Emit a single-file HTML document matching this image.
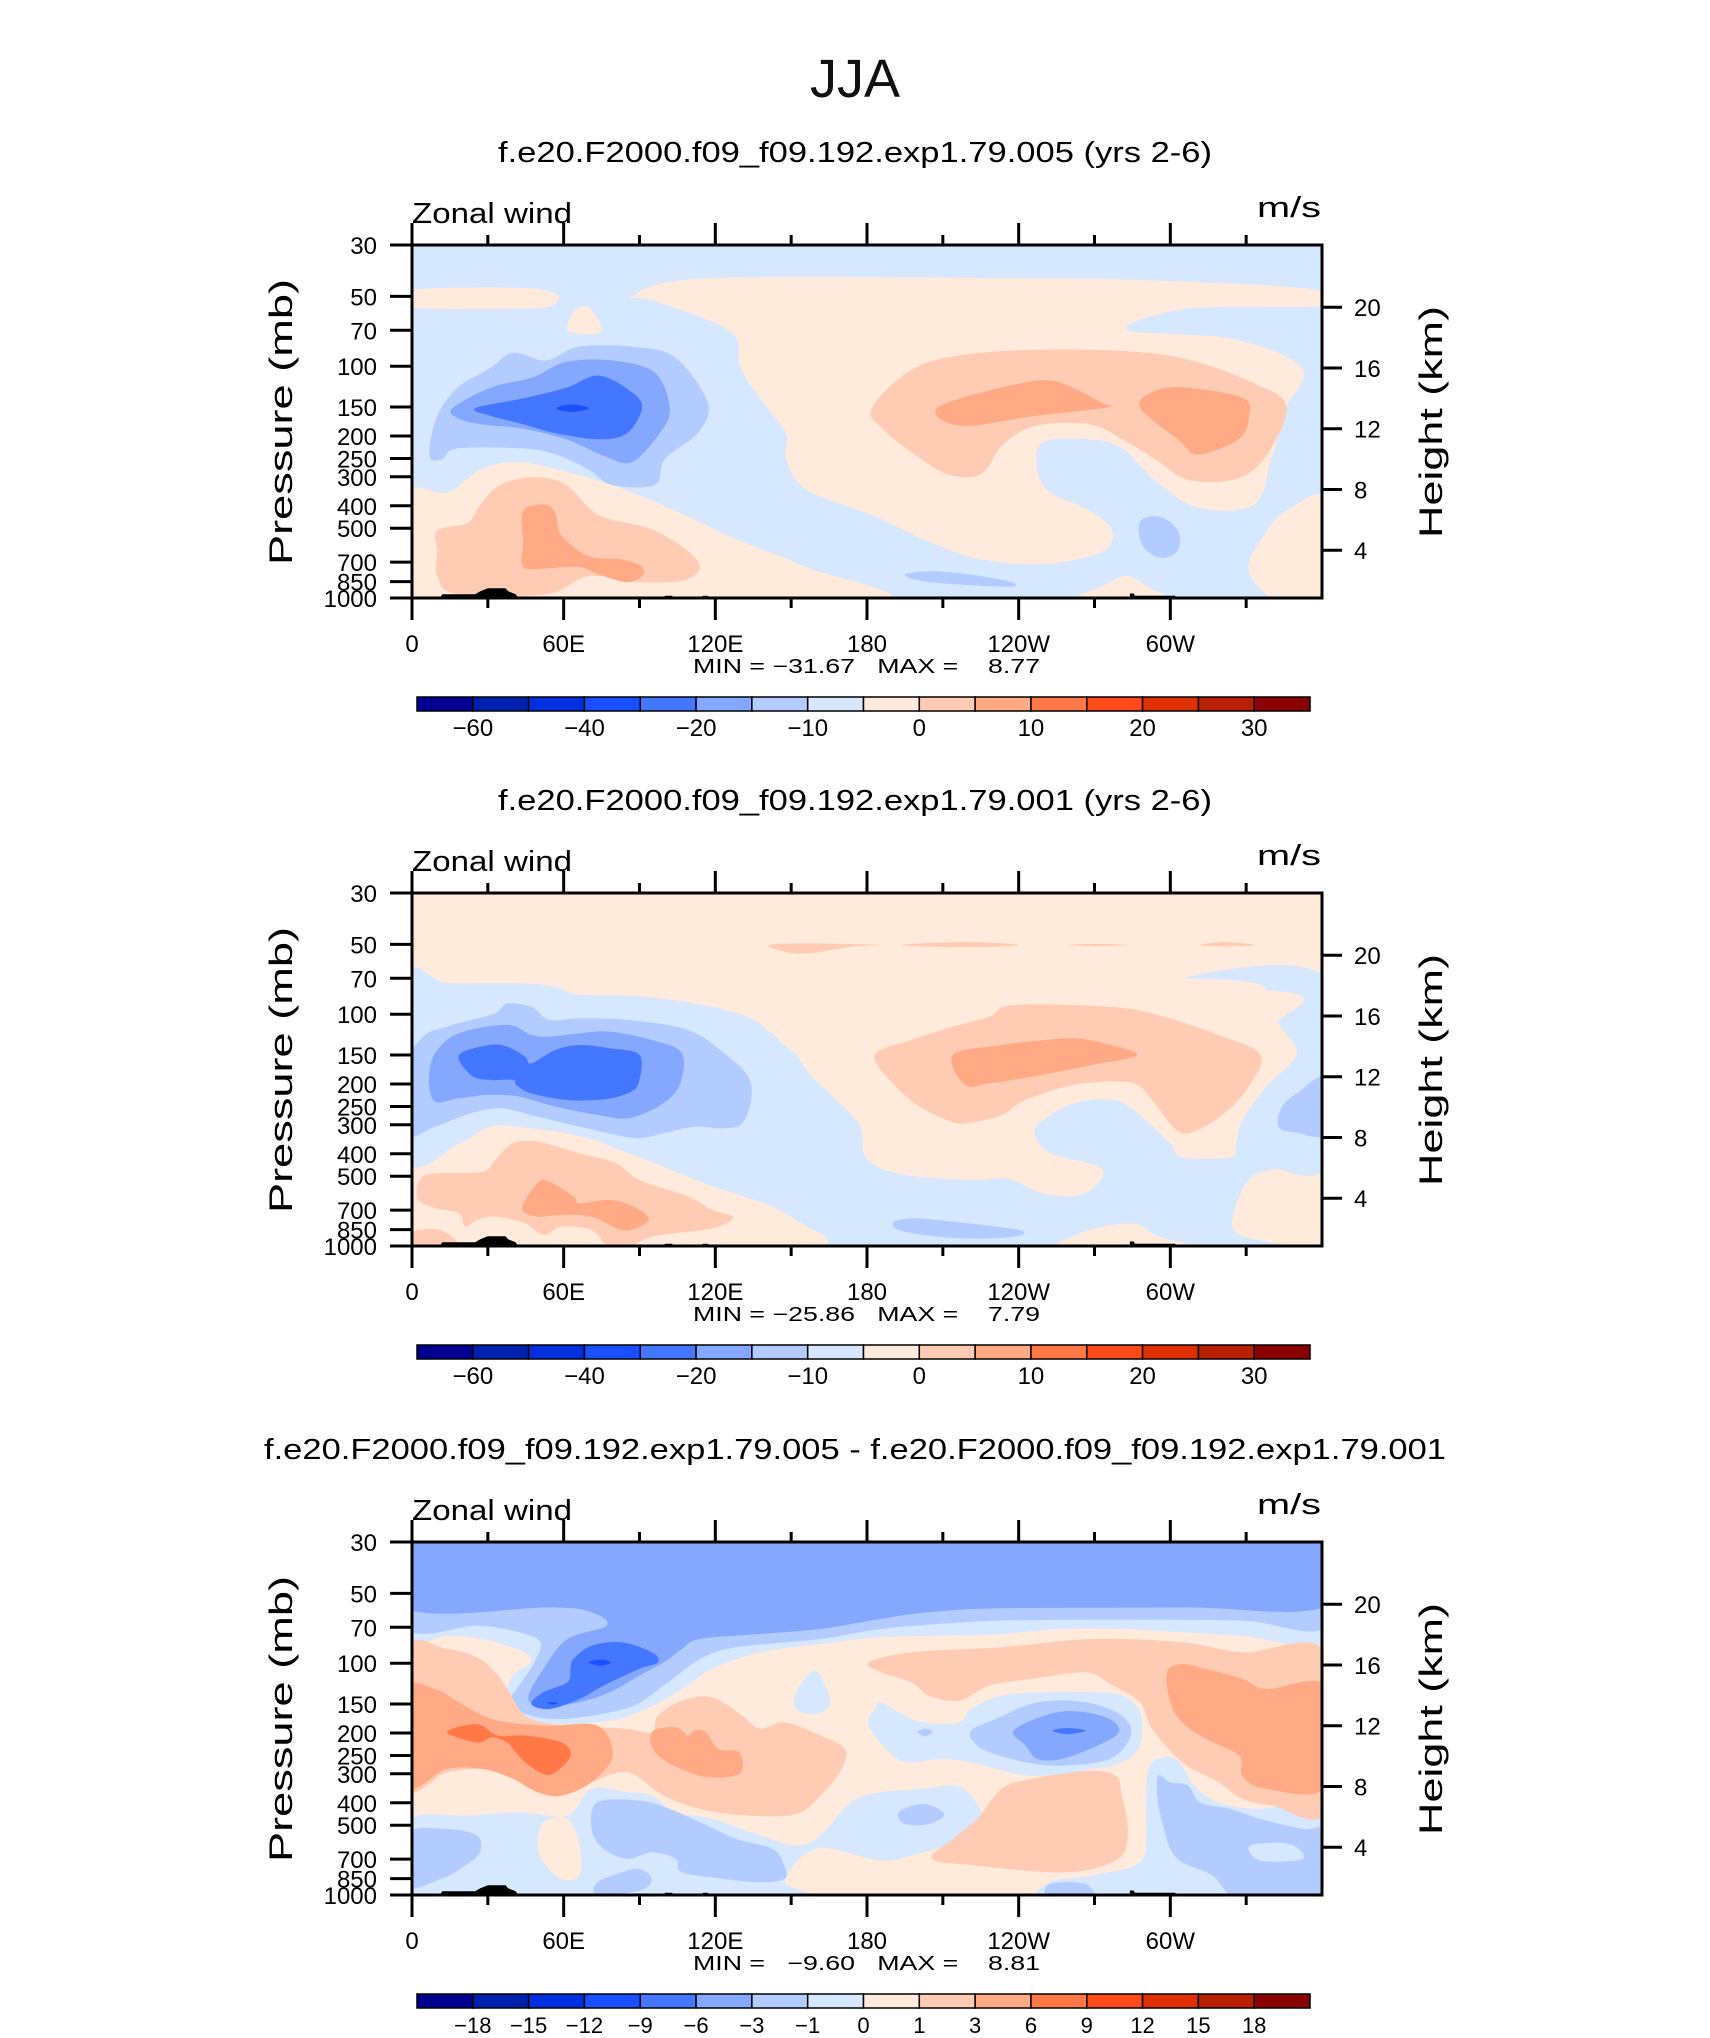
<!DOCTYPE html>
<html><head><meta charset="utf-8"><title>JJA Zonal wind</title>
<style>
html,body{margin:0;padding:0;background:#fff;}
svg{display:block;font-family:"Liberation Sans",sans-serif;}
</style></head>
<body>
<svg id="fig" xmlns="http://www.w3.org/2000/svg" width="1710" height="2038" viewBox="0 0 1710 2038">
<rect width="1710" height="2038" fill="#fff"/>
<text x="855" y="97" font-size="54" text-anchor="middle" fill="#111">JJA</text>
</svg>
<script>
// ---------- data ----------
const levelColors = ['#000090','#0020b0','#0030e0','#1a4fff','#4477ff','#85a8ff','#b3ccff','#d5e8ff','#ffeadb','#ffcbb3','#ffaa84','#ff7845','#ff4a1a','#e03000','#b82000','#8b0000'];
const cbLabelsAbs = ['-60','-40','-20','-10','0','10','20','30'];
const cbLabelAbsIdx = [1,3,5,7,9,11,13,15];
const cbLabelsDiff = ['-18','-15','-12','-9','-6','-3','-1','0','1','3','6','9','12','15','18'];
const pressureTicks = [30,50,70,100,150,200,250,300,400,500,700,850,1000];
const heightTicks = [4,8,12,16,20];
const lonTicks = [0,30,60,90,120,150,180,210,240,270,300,330];
const lonLabels = {0:'0',60:'60E',120:'120E',180:'180',240:'120W',300:'60W'};
const panelTitles = ['f.e20.F2000.f09_f09.192.exp1.79.005 (yrs 2-6)','f.e20.F2000.f09_f09.192.exp1.79.001 (yrs 2-6)','f.e20.F2000.f09_f09.192.exp1.79.005 - f.e20.F2000.f09_f09.192.exp1.79.001'];
const panelMinMax = ['MIN = \u221231.67   MAX =    8.77','MIN = \u221225.86   MAX =    7.79','MIN =   \u22129.60   MAX =    8.81'];

// terrain (lon, height km)
const terrainA = [[11,0.86],[12,1.1],[25,1.1],[27,1.3],[30,1.5],[37,1.5],[38,1.3],[41,1.1],[42,0.86]];
const terrainB = [[100,0.86],[100,1.0],[103,1.0],[103,0.86]];
const terrainC = [[115,0.86],[115,1.0],[117,1.0],[117,0.86]];
const terrainD = [[284,0.86],[284,1.15],[285.5,1.15],[286,1.0],[302,1.0],[302,0.86]];

// ---- panel 1 regions [lon, height km] ----
const p1PosBig = [[87,20.7],[117,21.9],[242,21.9],[286,21.8],[355,21.2],[360,20.1],[307,19.9],[283,18.5],[325,17.9],[352,16.0],[346,13.4],[340,10.0],[333,7.0],[311,6.8],[294,8.6],[281,10.7],[268,11.3],[251,11.2],[247,10.0],[251,8.0],[268,6.6],[277,5.3],[273,3.9],[251,3.1],[225,3.4],[204,4.6],[182,6.3],[156,8.0],[148,10.0],[148,11.7],[139,13.7],[130,16.0],[126,18.4],[96,20.4]];
const p1PosStrip = [[-2,21.1],[40,21.3],[57,20.9],[55,20.1],[40,19.9],[-2,20.0]];
const p1PosSmall = [[62,18.4],[64,19.7],[70,20.0],[75,18.4]];
const p1PosLowL = [[-2,7.6],[14,7.8],[27,9.3],[40,9.8],[53,9.5],[79,8.3],[104,6.6],[130,4.6],[156,2.9],[182,0.5],[-2,0.5]];
const p1PosLowR = [[362,7.3],[346,6.6],[337,5.0],[331,2.6],[344,0.5],[362,0.5]];
const p1PosBump = [[262,0.6],[275,1.8],[283,2.3],[292,1.5],[300,0.6]];
const p1Pos2Low = [[10,3.9],[10,5.3],[22,5.8],[27,7.0],[35,8.3],[48,8.8],[61,8.3],[74,6.3],[96,5.3],[113,3.3],[109,2.1],[91,1.9],[70,2.3],[53,1.1],[18,1.1],[10,2.3]];
const p1Pos3Low = [[44,6.6],[53,7.0],[57,6.3],[59,5.0],[70,3.6],[83,3.4],[91,2.9],[91,2.3],[85,1.9],[74,2.4],[66,2.9],[53,2.8],[44,2.9],[44,4.6]];
const p1Pos2Up = [[182,13.4],[199,16.0],[225,17.0],[268,17.2],[303,16.7],[333,15.0],[346,13.4],[337,10.0],[325,8.65],[307,8.65],[294,10.0],[281,11.3],[268,12.3],[247,12.2],[234,11.0],[225,9.0],[212,9.0],[199,10.3],[186,12.0]];
const p1Pos3UpL = [[208,13.4],[238,14.9],[255,15.1],[273,13.7],[275,13.4],[247,12.85],[217,12.2]];
const p1Pos3UpR = [[288,13.4],[294,14.5],[307,14.7],[329,14.0],[331,12.7],[327,11.3],[311,10.3],[303,11.3]];
const p1Neg10 = [[7,10.2],[9.6,12.7],[18,14.7],[31,16.0],[40,17.0],[53,16.5],[66,17.4],[87,17.4],[104,16.7],[117,13.7],[113,11.7],[100,10.0],[96,8.3],[79,8.3],[70,9.3],[57,10.3],[44,10.7],[18,10.7],[12,10.0]];
const p1Neg15 = [[16,13.35],[31,14.7],[48,15.4],[61,16.4],[79,16.5],[96,15.7],[102,13.35],[98,11.7],[87,9.8],[76,10.2],[61,11.3],[44,12.0],[27,12.3],[18,12.7]];
const p1Neg20 = [[25,13.35],[44,14.0],[61,14.7],[74,15.5],[87,14.4],[91,13.35],[85,11.7],[74,11.3],[57,11.7],[44,12.3],[31,12.85]];
const p1Neg25 = [[57,13.35],[63,13.6],[70,13.35],[63,13.1]];
const p1NegSmallA = [[288,5.9],[296,6.2],[303,5.3],[303,4.0],[296,3.5],[289,4.3]];
const p1NegSmallB = [[195,2.4],[210,2.6],[235,2.0],[236,1.6],[205,1.9]];

// ---- panel 2 regions ----
const p2BlueBig = [[-2,18.4],[13.8,18.15],[42.4,18.15],[56.7,17.9],[66.3,17.4],[90,17.3],[118.7,16.6],[137.8,15.5],[161.6,12.7],[233,9.6],[304.7,12.7],[338,17.7],[304.7,18.5],[362,18.4],[362,6.5],[340.4,5.9],[331,5.2],[325,3.0],[326,1.7],[338,0.5],[185.5,0.5],[161.6,1.7],[142.6,3.45],[118.7,4.8],[102,5.9],[85.3,7.0],[66.3,8.1],[42.4,8.7],[30.5,8.7],[18.6,7.6],[-2,6.7]];
const p2PosMid = [[137.8,15.7],[149.7,17.7],[338,17.7],[342.8,15.5],[350,13.5],[338,11.35],[328.5,9.15],[326,7.6],[323.7,6.7],[304.7,6.7],[300,7.6],[285.6,9.8],[276,10.5],[261.8,10.25],[249.8,9.15],[246.3,8.3],[252.2,7.0],[271.3,6.1],[272.5,5.2],[264.1,4.2],[249.8,4.3],[235.5,5.3],[221.2,5.2],[192.6,5.6],[179.5,6.7],[177.1,8.8],[166.4,10.7],[157,12.2],[149.7,14.0]];
const p2PosBottom = [[257,0.5],[264,1.7],[284.4,2.35],[295,1.5],[311.8,0.5]];
const p2NegRight = [[362,12.0],[350,10.9],[344,10.0],[342.8,8.7],[350,8.3],[362,8.3]];
const p2Neg10 = [[-2,12.66],[4.3,14.64],[13.8,15.3],[23.4,15.74],[32.9,16.17],[37.7,16.83],[47.2,16.6],[54.4,15.74],[66.3,15.84],[85.3,15.74],[109.2,15.08],[123.5,13.54],[133,12.0],[134.2,10.47],[130.6,8.93],[123.5,8.6],[111.6,8.7],[99.6,8.28],[90,7.95],[80.6,8.17],[66.3,8.71],[49.6,9.37],[35.3,9.92],[23.4,9.59],[9.1,8.71],[-2,8.28]];
const p2Neg15 = [[6.7,11.79],[9.1,13.54],[18.6,14.86],[37.7,15.41],[47.2,14.75],[54.4,14.64],[66.3,14.86],[78.2,14.97],[94.9,14.42],[106.8,13.54],[105.6,11.35],[97.3,10.03],[85.3,9.26],[73.4,9.48],[56.7,10.03],[42.4,10.69],[30.5,10.8],[18.6,10.58],[9.1,10.36]];
const p2Neg20 = [[18.6,13.43],[30.5,14.09],[37.7,13.98],[44.8,13.32],[47.2,12.88],[56.7,13.76],[66.3,14.09],[78.2,13.87],[90,13.43],[89.6,11.57],[85.3,10.9],[75.8,10.51],[61.5,10.47],[47.2,10.9],[41.2,11.46],[40,11.79],[30.5,11.79],[23.4,12.1]];
const p2NegBottom = [[190.2,2.35],[197.4,2.68],[214,2.46],[240.3,1.91],[238,1.47],[216.5,1.36],[195,1.8]];
const p2Pos2Mid = [[183.1,13.43],[197.4,14.42],[214,15.3],[228.4,15.95],[238,16.72],[276,16.61],[295.1,16.06],[319,14.75],[335.6,13.43],[331,11.35],[321.4,9.59],[309.4,8.39],[302.3,8.5],[292.8,10.47],[288,11.35],[280.8,11.68],[261.8,11.46],[242.7,10.47],[233.2,9.48],[218.9,8.93],[211.7,9.15],[199.8,10.14],[190.2,11.57]];
const p2Pos3Mid = [[214,13.43],[233.2,14.09],[247.5,14.37],[261.8,14.53],[273.7,14.2],[286.8,13.43],[269,12.77],[252.2,12.22],[238,11.79],[228.4,11.57],[218.9,11.46]];
const p2Streak1 = [[141.4,20.67],[157,20.78],[185.5,20.67],[173.6,20.56],[157,20.12],[147.3,20.23]];
const p2Streak2 = [[193.8,20.67],[218.9,20.87],[240.3,20.67],[218.9,20.52]];
const p2Streak3 = [[259.4,20.67],[271.3,20.74],[283.2,20.67],[271.3,20.6]];
const p2Streak4 = [[311.8,20.67],[321.4,20.87],[333.3,20.67],[321.4,20.58]];
const p2Pos2Low = [[1.9,4.11],[3.1,5.2],[9.1,5.64],[28.1,5.75],[32.9,6.52],[40,7.62],[49.6,7.73],[66.3,6.96],[80.6,6.3],[90,5.2],[109.2,4.11],[118.7,3.23],[127,2.75],[118.7,2.02],[94.9,1.47],[85.3,0.7],[78.2,0.7],[71,1.91],[59.1,2.13],[52,1.58],[44.8,2.35],[32.9,2.79],[25.7,2.57],[21,2.13],[18.6,3.01],[9.1,3.34],[4.3,3.67]];
const p2Pos2Corner = [[-2,1.69],[11.4,1.9],[18.6,0.6],[-2,0.6]];
const p2Pos3Low = [[43.6,3.34],[49.6,4.98],[54.4,5.09],[63.9,4.11],[66.3,3.67],[78.2,3.89],[87.7,3.45],[93.7,2.68],[90,2.13],[83,1.91],[71,2.79],[59.1,2.9],[49.6,2.79]];

// ---- panel 3 regions ----
const p3LightBlueTop = [[-2,25],[362,25],[362,17.71],[328.5,17.93],[304.7,18.15],[280.8,18.37],[257,18.37],[233.2,18.04],[209.3,17.93],[185.5,17.82],[161.6,17.38],[137.8,16.83],[118.7,15.74],[106.8,14.42],[92.5,13.1],[78.2,12.33],[56.7,12.1],[42.4,12.44],[35.3,13.1],[36.5,13.98],[40,15.3],[47.2,16.17],[44.8,16.83],[37.7,17.27],[28.1,17.71],[13.8,17.93],[-2,17.71]];
const p3Neg1Top = [[-2,25],[362,25],[362,18.59],[328.5,18.92],[280.8,18.98],[233.2,18.92],[209.3,18.7],[185.5,18.37],[161.6,17.71],[128.3,17.16],[114,16.39],[99.6,14.64],[87.7,13.32],[71,12.66],[56.7,12.44],[44.8,12.77],[38.6,13.54],[42.4,14.64],[48.4,16.17],[50.8,17.49],[42.4,18.15],[25.7,18.59],[-2,18.48]];
const p3Neg3Top = [[-2,25],[362,25],[362,19.9],[304.7,19.79],[233.2,19.73],[204.5,19.47],[185.5,19.03],[161.6,18.37],[137.8,18.04],[114,17.71],[106.8,17.05],[99.6,16.17],[90,15.3],[78.2,14.2],[66.3,13.54],[54.4,13.32],[46,13.76],[52,15.74],[61.5,17.71],[77,18.59],[71,19.47],[54.4,19.79],[-2,19.73]];
const p3Neg6 = [[63.9,16.39],[71,17.27],[83,17.49],[94.9,16.83],[97.3,16.17],[90,15.74],[75.8,14.64],[66.3,13.76],[54.4,13.1],[47.2,13.43],[52,14.2],[61.5,14.86],[62.7,15.74]];
const p3Neg9a = [[69.9,16.17],[74.6,16.35],[78.7,16.17],[74.6,15.95]];
const p3Neg9b = [[53.5,13.56],[57.8,13.5],[55.6,13.4]];
const p3Pos1Left = [[-2,16.94],[13.8,17.05],[25.7,16.5],[32.9,15.52],[37.7,14.42],[44.8,12.66],[56.7,12.1],[73.4,11.9],[85.3,11.79],[94.9,11.57],[97.3,12.66],[106.8,13.65],[118.7,13.87],[130.6,12.66],[137.8,11.79],[147.3,12.22],[161.6,11.35],[171.2,10.47],[170,9.15],[161.6,7.4],[152,6.19],[133,6.08],[114,6.52],[99.6,7.4],[85.3,8.93],[71,8.28],[66.3,8.06],[49.6,8.71],[30.5,9.15],[13.8,8.93],[-2,8.06]];
const p3Pos1Right = [[180.7,16.17],[197.4,16.83],[233.2,17.16],[269,17.71],[304.7,17.49],[328.5,16.83],[362,16.72],[362,6.52],[340.4,6.74],[328.5,7.18],[319,8.28],[304.7,9.59],[292.8,11.79],[288,13.54],[276,14.75],[266.5,15.52],[245,15.08],[228.4,14.64],[216.5,13.65],[204.5,13.98],[197.4,14.86],[185.5,15.52]];
const p3Pos1Low = [[233.2,7.84],[245,8.5],[266.5,9.04],[278.4,8.71],[280.8,7.4],[283.2,5.2],[280.8,3.45],[269,2.57],[252.2,2.35],[223.6,2.79],[205.7,3.23],[214,4.55],[223.6,5.86]];
const p3Pos3Left = [[-2,14.31],[9.1,14.42],[18.6,13.54],[28.1,12.66],[37.7,12.22],[54.4,12.0],[73.4,12.0],[79.4,10.03],[71,8.28],[59.1,7.4],[49.6,7.62],[40,8.5],[28.1,9.15],[13.8,9.15],[-2,8.06]];
const p3Pos3Mid = [[94.9,11.57],[104.4,11.9],[109.2,11.35],[111.6,11.68],[116.3,11.57],[121.1,10.47],[129.5,10.25],[129.5,8.82],[114,8.71],[97.3,10.03]];
const p3Pos3Right = [[298.7,15.52],[304.7,16.06],[314.2,15.74],[328.5,15.08],[338,14.42],[362,14.53],[362,8.06],[338,7.84],[328.5,8.71],[327.3,10.03],[314.2,11.13],[304.7,12.22],[300,13.54]];
const p3Pos6Left = [[13.8,11.57],[25.7,12.1],[34.1,11.35],[44.8,11.35],[59.1,10.9],[62.7,10.03],[56.7,8.93],[52,8.82],[44.8,9.59],[40,10.47],[37.7,10.9],[31.7,11.24],[25.7,10.9]];
const p3Neg0Mid = [[180.7,12.0],[183.1,13.1],[185.5,13.54],[192.6,12.88],[202.2,12.22],[216.5,12.22],[221.2,13.1],[233.2,13.98],[252.2,14.2],[269,14.2],[280.8,13.98],[288,12.88],[288,10.69],[280.8,9.59],[269,9.15],[245,8.71],[221.2,9.59],[209.3,9.81],[197.4,9.59],[190.2,10.03]];
const p3Neg1Mid = [[221.2,11.68],[230.8,12.44],[247.5,13.54],[266.5,13.54],[280.8,12.66],[284.4,11.35],[276,9.81],[257,9.37],[242.7,9.59],[228.4,10.25],[222.4,10.9]];
const p3Neg3Mid = [[238,11.68],[252.2,12.77],[264.1,12.93],[276,12.44],[279.6,11.57],[271.3,10.69],[257,9.81],[247.5,9.81],[242.7,10.69]];
const p3Neg6Mid = [[253.4,11.68],[259.4,11.85],[266.5,11.68],[259.4,11.45]];
const p3Neg1Tiny = [[200,11.6],[203,11.8],[206,11.6],[203,11.3]];
const p3Neg0Vert = [[152,14.2],[159.2,15.63],[164,14.42],[165.2,13.32],[159.2,12.77],[152,13.1]];
const p3Neg0LowL = [[-2,5.64],[23.4,6.08],[42.4,6.3],[61.5,6.08],[71,7.84],[85.3,7.62],[94.9,7.4],[104.4,6.3],[118.7,5.86],[137.8,4.77],[152,4.11],[161.6,4.77],[173.6,6.96],[185.5,7.62],[202.2,7.84],[214,8.06],[221.2,7.4],[226,5.64],[216.5,4.33],[207,3.89],[197.4,3.45],[185.5,3.12],[166.4,3.89],[159.2,3.89],[152,3.01],[147.3,1.69],[147.3,0.5],[-2,0.5]];
const p3Pos0Strip = [[52,5.64],[61.5,5.86],[66.3,4.11],[66.3,2.13],[59.1,1.91],[52,3.01],[49.6,4.11]];
const p3Neg0LowR = [[269,2.13],[288,3.01],[290.4,5.2],[290.4,7.84],[292.8,9.59],[302.3,9.81],[309.4,8.06],[319,6.96],[333.3,6.52],[362,6.52],[362,0.5],[257,0.5],[252.2,1.69]];
const p3Neg1LowA = [[-2,4.87],[13.8,5.2],[25.7,4.77],[26.9,3.67],[21,2.79],[11.4,1.91],[-2,1.47]];
const p3Neg1LowB = [[73.4,6.96],[90,7.07],[102,6.52],[114,5.64],[128.3,4.55],[142.6,3.89],[147.3,2.79],[147.3,1.91],[137.8,1.69],[123.5,1.91],[106.8,2.35],[104.4,3.23],[94.9,3.67],[85.3,3.23],[75.8,3.89],[71,5.2]];
const p3Neg1LowC = [[73.4,1.69],[83,2.35],[90,2.57],[94.9,1.91],[90,1.14],[73.4,0.9]];
const p3Neg1LowD = [[192.6,6.3],[202.2,6.85],[210.5,6.19],[204.5,5.53],[195,5.53]];
const p3Neg1LowR = [[295.1,8.71],[300,8.28],[307,8.06],[311.8,6.96],[323.7,6.52],[335.6,5.86],[352.4,5.2],[362,4.98],[362,0.5],[328.5,0.5],[316.6,2.13],[304.7,3.01],[300,3.89],[297.5,5.2],[295.1,6.96]];
const p3Neg0Hole = [[331.6,4.11],[347,4.22],[352.4,3.23],[335.6,3.12]];
const p3Neg1Bot = [[252.2,1.58],[266.5,1.58],[269,0.6],[252.2,0.6]];

// layers: [colorIndex, region]
const panel1Layers = [[8,p1PosBig],[8,p1PosStrip],[8,p1PosSmall],[8,p1PosLowL],[8,p1PosLowR],[8,p1PosBump],[9,p1Pos2Low],[10,p1Pos3Low],[9,p1Pos2Up],[10,p1Pos3UpL],[10,p1Pos3UpR],[6,p1Neg10],[5,p1Neg15],[4,p1Neg20],[3,p1Neg25],[6,p1NegSmallA],[6,p1NegSmallB]];
const panel2Layers = [[7,p2BlueBig],[8,p2PosMid],[8,p2PosBottom],[6,p2NegRight],[6,p2Neg10],[5,p2Neg15],[4,p2Neg20],[6,p2NegBottom],[9,p2Pos2Mid],[10,p2Pos3Mid],[9,p2Streak1],[9,p2Streak2],[9,p2Streak3],[9,p2Streak4],[9,p2Pos2Low],[9,p2Pos2Corner],[10,p2Pos3Low]];
const panel3Layers = [[7,p3LightBlueTop],[6,p3Neg1Top],[5,p3Neg3Top],[4,p3Neg6],[3,p3Neg9a],[3,p3Neg9b],[7,p3Neg0LowL],[8,p3Pos0Strip],[7,p3Neg0LowR],[9,p3Pos1Left],[9,p3Pos1Right],[9,p3Pos1Low],[10,p3Pos3Left],[10,p3Pos3Mid],[10,p3Pos3Right],[11,p3Pos6Left],[7,p3Neg0Mid],[6,p3Neg1Mid],[5,p3Neg3Mid],[4,p3Neg6Mid],[6,p3Neg1Tiny],[7,p3Neg0Vert],[6,p3Neg1LowA],[6,p3Neg1LowB],[6,p3Neg1LowC],[6,p3Neg1LowD],[6,p3Neg1LowR],[7,p3Neg0Hole],[6,p3Neg1Bot]];
const panelBackground = [7,8,8];
const panelLayers = [panel1Layers,panel2Layers,panel3Layers];
const terrain = [terrainA,terrainB,terrainC,terrainD];

// ---------- geometry ----------
const NS='http://www.w3.org/2000/svg';
const svg=document.getElementById('fig');
const PL=412, PR=1322, PT=245, PB=598;
const panelOffsets=[0,648,1297];
function xLon(lon){return PL+lon/360*(PR-PL);}
function yZ(z,off){return off+611-15.19*z;}
function yP(p,off){return off+PT+(PB-PT)*Math.log(p/30)/Math.log(1000/30);}
function mk(tag,attrs,parent){const e=document.createElementNS(NS,tag);for(const k in attrs)e.setAttribute(k,attrs[k]);(parent||svg).appendChild(e);return e;}
function smoothPath(pts){
  const n=pts.length;let d='M'+pts[0][0].toFixed(1)+','+pts[0][1].toFixed(1);
  for(let i=0;i<n;i++){
    const p0=pts[(i-1+n)%n],p1=pts[i],p2=pts[(i+1)%n],p3=pts[(i+2)%n];
    const c1x=p1[0]+(p2[0]-p0[0])/6,c1y=p1[1]+(p2[1]-p0[1])/6;
    const c2x=p2[0]-(p3[0]-p1[0])/6,c2y=p2[1]-(p3[1]-p1[1])/6;
    d+='C'+c1x.toFixed(1)+','+c1y.toFixed(1)+' '+c2x.toFixed(1)+','+c2y.toFixed(1)+' '+p2[0].toFixed(1)+','+p2[1].toFixed(1);
  }
  return d+'Z';
}
function txt(x,y,s,size,anchor,parent,extra){
  const t=mk('text',Object.assign({x:x,y:y,'font-size':size,'text-anchor':anchor||'start',fill:'#000'},extra||{}),parent);
  t.textContent=s;return t;
}

panelOffsets.forEach((off,pi)=>{
  const g=mk('g',{});
  
  
  const tt=txt(855,162+off,panelTitles[pi],29,'middle',g,{textLength:pi===2?1182:714,lengthAdjust:'spacingAndGlyphs'});
  
  
  const zw=txt(412,223+off,'Zonal wind',29,'start',g,{textLength:160,lengthAdjust:'spacingAndGlyphs'});
  
  
  const un=txt(1321,217+off,'m/s',29,'end',g,{textLength:64,lengthAdjust:'spacingAndGlyphs'});
  
  
  const cp=mk('clipPath',{id:'clip'+pi},g);
  mk('rect',{x:PL,y:PT+off,width:PR-PL,height:PB-PT},cp);
  const field=mk('g',{'clip-path':'url(#clip'+pi+')'},g);
  
  
  const bg=mk('rect',{x:PL,y:PT+off,width:PR-PL,height:PB-PT,fill:levelColors[panelBackground[pi]]},field);
  
  
  panelLayers[pi].forEach(([ci,reg])=>{
    const pts=reg.map(([lon,z])=>[xLon(lon),yZ(z,off)]);
    const pa=mk('path',{d:smoothPath(pts),fill:levelColors[ci]},field);
    
    
  });
  terrain.forEach(reg=>{
    const pts=reg.map(([lon,z])=>xLon(lon).toFixed(1)+','+yZ(z,off).toFixed(1)).join(' ');
    const tp=mk('polygon',{points:pts,fill:'#000'},field);
    
    
  });
  const fr=mk('rect',{x:PL,y:PT+off,width:PR-PL,height:PB-PT,fill:'none',stroke:'#000','stroke-width':3},g);
  
  
  lonTicks.forEach(lon=>{
    const major=lon%60===0, x=xLon(lon), L=major?22:10;
    const t1=mk('line',{x1:x,x2:x,y1:PT+off,y2:PT+off-L,stroke:'#000','stroke-width':3},g);
    
    
    const t2=mk('line',{x1:x,x2:x,y1:PB+off,y2:PB+off+L,stroke:'#000','stroke-width':3},g);
    
    
    if(lonLabels[lon]!==undefined){
      const l=txt(x,652+off,lonLabels[lon],24,'middle',g);
      
      
    }
  });
  pressureTicks.forEach(p=>{
    const y=yP(p,off);
    const tk=mk('line',{x1:PL-22,x2:PL,y1:y,y2:y,stroke:'#000','stroke-width':3},g);
    
    
    const l=txt(377,y+9,String(p),24,'end',g);
    
    
  });
  heightTicks.forEach(h=>{
    const y=yZ(h,off);
    const tk=mk('line',{x1:PR,x2:PR+20,y1:y,y2:y,stroke:'#000','stroke-width':3},g);
    
    
    const l=txt(1354,y+9,String(h),24,'start',g);
    
    
  });
  const ya=txt(0,0,'Pressure  (mb)',32,'middle',g,{transform:'translate(292,'+(422+off)+') rotate(-90)',textLength:286,lengthAdjust:'spacingAndGlyphs'});
  
  
  const ya2=txt(0,0,'Height  (km)',32,'middle',g,{transform:'translate(1442,'+(422+off)+') rotate(-90)',textLength:232,lengthAdjust:'spacingAndGlyphs'});
  
  
  const mm=txt(693,673+off,panelMinMax[pi],20,'start',g,{textLength:347,lengthAdjust:'spacingAndGlyphs',style:'white-space:pre'});
  
  
  const cbg=mk('g',{},g);
  
  
  const bw=(1310-417)/16;
  levelColors.forEach((c,i)=>{
    const r=mk('rect',{x:417+i*bw,y:697+off,width:bw,height:14,fill:c,stroke:'#000','stroke-width':1.5},cbg);
    
    
  });
  if(pi<2){
    cbLabelsAbs.forEach((s,k)=>{
      const l=txt(417+cbLabelAbsIdx[k]*bw,736+off,s.replace('-','\u2212'),24,'middle',cbg);
      
      
    });
  } else {
    cbLabelsDiff.forEach((s,k)=>{
      const l=txt(417+(k+1)*bw,736+off,s.replace('-','\u2212'),22,'middle',cbg);
      
      
    });
  }
});
</script>
</body></html>
